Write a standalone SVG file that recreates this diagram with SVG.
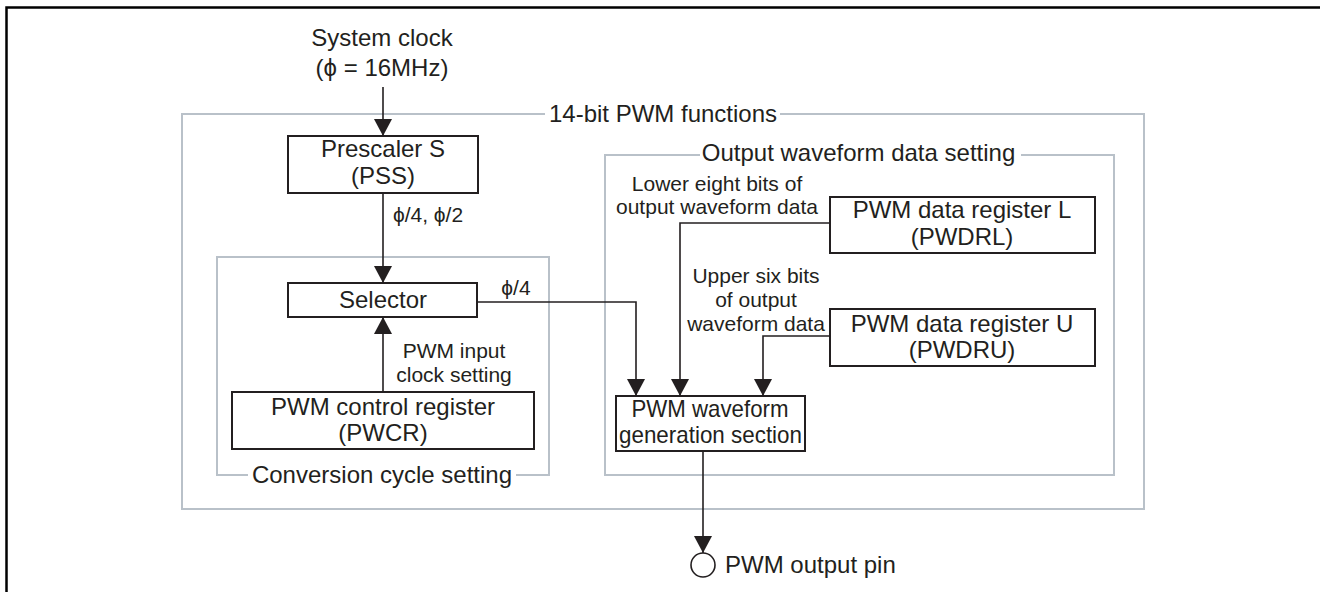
<svg xmlns="http://www.w3.org/2000/svg" width="1320" height="592" viewBox="0 0 1320 592">
<style>
text{font-family:"Liberation Sans",Arial,Helvetica,sans-serif;fill:#231f20;}
.t{font-size:24px;text-anchor:middle;}
.l{font-size:21px;text-anchor:middle;}
.box{fill:#fff;stroke:#231f20;stroke-width:2;}
.grp{fill:none;stroke:#b9c1c9;stroke-width:2;}
.con{fill:none;stroke:#231f20;stroke-width:1.6;}
.arr{marker-end:url(#ah);}
</style>
<defs>
<marker id="ah" markerUnits="userSpaceOnUse" markerWidth="17" markerHeight="18" viewBox="0 0 17 18" refX="17" refY="9" orient="auto">
<path d="M0,0 L17,9 L0,18 Z" fill="#231f20"/>
</marker>
</defs>
<rect width="1320" height="592" fill="#fff"/>
<path d="M6.5,592 V7.5 H1320" fill="none" stroke="#000" stroke-width="2.5"/>

<g id="groups">
<path class="grp" d="M545,114 H182 V509 H1144 V114 H780"/>
<text class="t" x="663" y="122">14-bit PWM functions</text>
<path class="grp" d="M700,155 H605 V475 H1114 V155 H1021"/>
<text class="t" x="858.5" y="161">Output waveform data setting</text>
<path class="grp" d="M248,475 H217 V257 H549 V475 H516"/>
<text class="t" x="382" y="483">Conversion cycle setting</text>
</g>

<g id="system-clock">
<text class="t" x="382" y="46">System clock</text>
<text class="t" x="382" y="76">(ϕ = 16MHz)</text>
</g>

<g id="prescaler">
<rect class="box" x="288" y="136" width="190" height="57"/>
<text class="t" x="383" y="157">Prescaler S</text>
<text class="t" x="383" y="184">(PSS)</text>
</g>

<g id="selector">
<rect class="box" x="288" y="283" width="189" height="34"/>
<text class="t" x="383" y="308">Selector</text>
</g>

<g id="pwcr">
<rect class="box" x="232" y="392" width="302" height="57"/>
<text class="t" x="383" y="415">PWM control register</text>
<text class="t" x="383" y="441">(PWCR)</text>
</g>

<g id="pwdrl">
<rect class="box" x="830" y="197" width="265" height="56"/>
<text class="t" x="962" y="218">PWM data register L</text>
<text class="t" x="962" y="245">(PWDRL)</text>
</g>

<g id="pwdru">
<rect class="box" x="830" y="309" width="265" height="57"/>
<text class="t" x="962" y="332">PWM data register U</text>
<text class="t" x="962" y="358">(PWDRU)</text>
</g>

<g id="pwm-gen">
<rect class="box" x="616" y="396" width="189" height="55"/>
<text class="t" x="710" y="417" textLength="157" lengthAdjust="spacingAndGlyphs">PWM waveform</text>
<text class="t" x="710.5" y="443" textLength="183" lengthAdjust="spacingAndGlyphs">generation section</text>
</g>

<g id="output-pin">
<circle cx="703" cy="565" r="12" fill="#fff" stroke="#231f20" stroke-width="1.6"/>
<text x="725" y="573" style="font-size:24px">PWM output pin</text>
</g>

<g id="connectors">
<path class="con arr" d="M383,87 V136"/>
<path class="con arr" d="M383,193 V283"/>
<path class="con arr" d="M383,392 V317"/>
<path class="con arr" d="M477,302 H636 V396"/>
<path class="con arr" d="M830,223 H680 V396"/>
<path class="con arr" d="M830,336 H763 V396"/>
<path class="con arr" d="M703,451 V553"/>
</g>

<g id="labels">
<text class="l" x="428" y="222">ϕ/4, ϕ/2</text>
<text class="l" x="516" y="295">ϕ/4</text>
<text class="l" x="454" y="358">PWM input</text>
<text class="l" x="454" y="382">clock setting</text>
<text class="l" x="717" y="191">Lower eight bits of</text>
<text class="l" x="717" y="214">output waveform data</text>
<text class="l" x="756" y="283">Upper six bits</text>
<text class="l" x="756" y="307">of output</text>
<text class="l" x="756" y="331">waveform data</text>
</g>
</svg>
